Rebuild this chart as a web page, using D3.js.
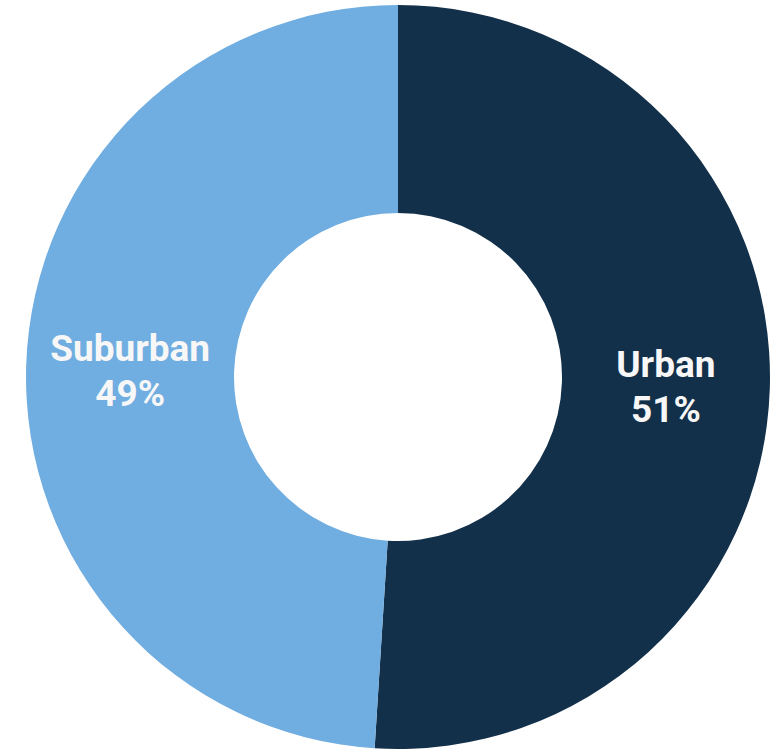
<!DOCTYPE html>
<html>
<head>
<meta charset="utf-8">
<script src="https://cdn.jsdelivr.net/npm/d3@7"></script>
<style>
	html, body { margin: 0; padding: 0; background: #fff; }
</style>
</head>
<body>
<script>
const categories = ['Urban', 'Suburban']
const values = [51, 49]
const colors = ['#13304a', '#70ade0']

const width = 774
const height = 750
const cx = 398
const cy = 377
const outerR = 372
const innerR = 164
const labelR = 268

const svg = d3.select('body').append('svg')
	.attr('width', width)
	.attr('height', height)

const body = svg.append('g')
	.attr('transform', 'translate(' + cx + ',' + cy + ')')

const pie = d3.pie().sort(null).value(d => d.value)
const arcs = pie(categories.map((c, i) => ({ name: c, value: values[i] })))

const arc = d3.arc().innerRadius(innerR).outerRadius(outerR)
const labelArc = d3.arc().innerRadius(labelR).outerRadius(labelR)

body.selectAll('path.slice')
	.data(arcs)
	.enter()
	.append('path')
	.attr('class', 'slice')
	.attr('d', arc)
	.attr('fill', (d, i) => colors[i])

const labels = body.selectAll('text.label')
	.data(arcs)
	.enter()
	.append('text')
	.attr('class', 'label')
	.attr('transform', d => 'translate(' + labelArc.centroid(d) + ')')
	.attr('text-anchor', 'middle')
	.attr('fill', '#f7f7f7')
	.style('font-family', 'Roboto, sans-serif')
	.style('font-weight', 'bold')
	.style('font-size', '37px')

labels.append('tspan')
	.attr('x', 0)
	.attr('y', -8)
	.text(d => d.data.name)

labels.append('tspan')
	.attr('x', 0)
	.attr('y', 37)
	.text(d => d.data.value + '%')
</script>
</body>
</html>
